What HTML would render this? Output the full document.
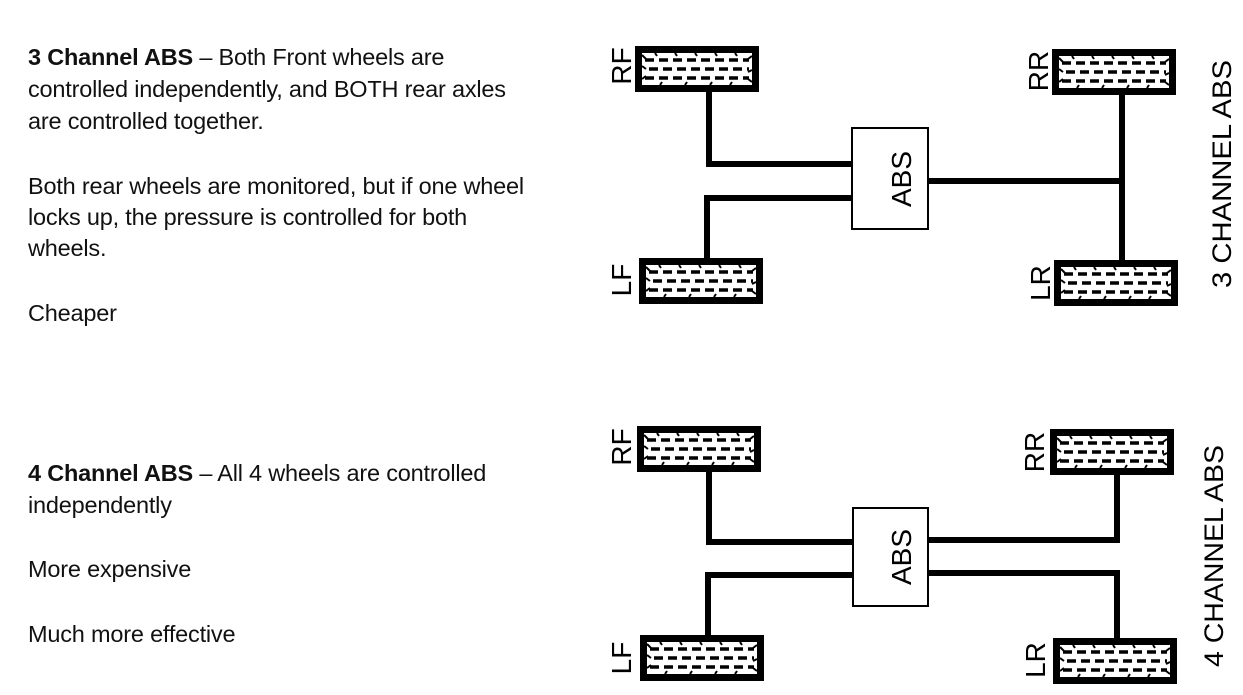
<!DOCTYPE html>
<html><head><meta charset="utf-8"><style>
html,body{margin:0;padding:0;background:#fff;}
body{width:1243px;height:695px;position:relative;overflow:hidden;font-family:"Liberation Sans",sans-serif;}
.t{position:absolute;left:28px;font-size:23.5px;color:#111;white-space:nowrap;line-height:26px;letter-spacing:-0.2px;}
svg{position:absolute;left:0;top:0;}
</style></head><body>
<div class="t" style="top:44px"><b>3 Channel ABS</b> – Both Front wheels are</div>
<div class="t" style="top:76px">controlled independently, and BOTH rear axles</div>
<div class="t" style="top:108px">are controlled together.</div>
<div class="t" style="top:173px">Both rear wheels are monitored, but if one wheel</div>
<div class="t" style="top:204px">locks up, the pressure is controlled for both</div>
<div class="t" style="top:235px">wheels.</div>
<div class="t" style="top:300px">Cheaper</div>
<div class="t" style="top:460px"><b>4 Channel ABS</b> – All 4 wheels are controlled</div>
<div class="t" style="top:492px">independently</div>
<div class="t" style="top:556px">More expensive</div>
<div class="t" style="top:621px">Much more effective</div>

<svg width="1243" height="695" viewBox="0 0 1243 695">
<defs>
<g id="tire">
<rect x="0" y="0" width="124" height="46" fill="#000"/>
<rect x="7" y="7" width="110" height="32" fill="#fff"/>
<g stroke="#000" stroke-width="3.5">
<line x1="10" y1="14" x2="114" y2="14" stroke-dasharray="9,5"/>
<line x1="14" y1="23" x2="114" y2="23" stroke-dasharray="9,5"/>
<line x1="10" y1="32" x2="114" y2="32" stroke-dasharray="9,5"/>
</g>
<g stroke="#000" stroke-width="2">
<path d="M7 9 l4 4 M7 20 l4 3 M7 33 l4 -3 M117 10 l-4 3 M117 24 l-4 2 M117 36 l-4 -3 M20 7 l2 3 M40 7 l2 3 M60 7 l2 3 M80 7 l2 3 M100 7 l2 3 M25 39 l2 -3 M50 39 l2 -3 M75 39 l2 -3 M95 39 l2 -3" />
</g>
</g>
</defs>
<g font-family="Liberation Sans, sans-serif" font-size="27" fill="#000">
<use href="#tire" x="635" y="46"/>
<use href="#tire" x="1052" y="49"/>
<use href="#tire" x="639" y="258"/>
<use href="#tire" x="1054" y="260"/>
<g fill="none" stroke="#000" stroke-width="6">
<polyline points="709,90 709,164 853,164"/>
<polyline points="707,259 707,198 853,198"/>
<line x1="928" y1="181" x2="1122" y2="181"/>
<line x1="1122" y1="94" x2="1122" y2="261"/>
</g>
<rect x="852" y="128" width="76" height="101" fill="#fff" stroke="#000" stroke-width="2"/>
<text transform="translate(911,179) rotate(-90)" text-anchor="middle" font-size="28">ABS</text>
<text transform="translate(631,66) rotate(-90)" text-anchor="middle" font-size="28">RF</text>
<text transform="translate(631,280) rotate(-90)" text-anchor="middle" font-size="28">LF</text>
<text transform="translate(1048,71) rotate(-90)" text-anchor="middle" font-size="28">RR</text>
<text transform="translate(1050,283) rotate(-90)" text-anchor="middle" font-size="28">LR</text>
<text transform="translate(1231,174) rotate(-90)" text-anchor="middle" textLength="228" lengthAdjust="spacingAndGlyphs">3 CHANNEL ABS</text>

<use href="#tire" x="637" y="426"/>
<use href="#tire" x="1050" y="429"/>
<use href="#tire" x="640" y="635"/>
<use href="#tire" x="1053" y="638"/>
<g fill="none" stroke="#000" stroke-width="6">
<polyline points="709,471 709,542 853,542"/>
<polyline points="708,636 708,575 853,575"/>
<polyline points="928,540 1117,540 1117,473"/>
<polyline points="928,573 1117,573 1117,639"/>
</g>
<rect x="853" y="508" width="75" height="98" fill="#fff" stroke="#000" stroke-width="2"/>
<text transform="translate(911,557) rotate(-90)" text-anchor="middle" font-size="28">ABS</text>
<text transform="translate(631,447) rotate(-90)" text-anchor="middle" font-size="28">RF</text>
<text transform="translate(631,658) rotate(-90)" text-anchor="middle" font-size="28">LF</text>
<text transform="translate(1044,452) rotate(-90)" text-anchor="middle" font-size="28">RR</text>
<text transform="translate(1045,660) rotate(-90)" text-anchor="middle" font-size="28">LR</text>
<text transform="translate(1223,556) rotate(-90)" text-anchor="middle" textLength="222" lengthAdjust="spacingAndGlyphs">4 CHANNEL ABS</text>
</g>
</svg>
</body></html>
